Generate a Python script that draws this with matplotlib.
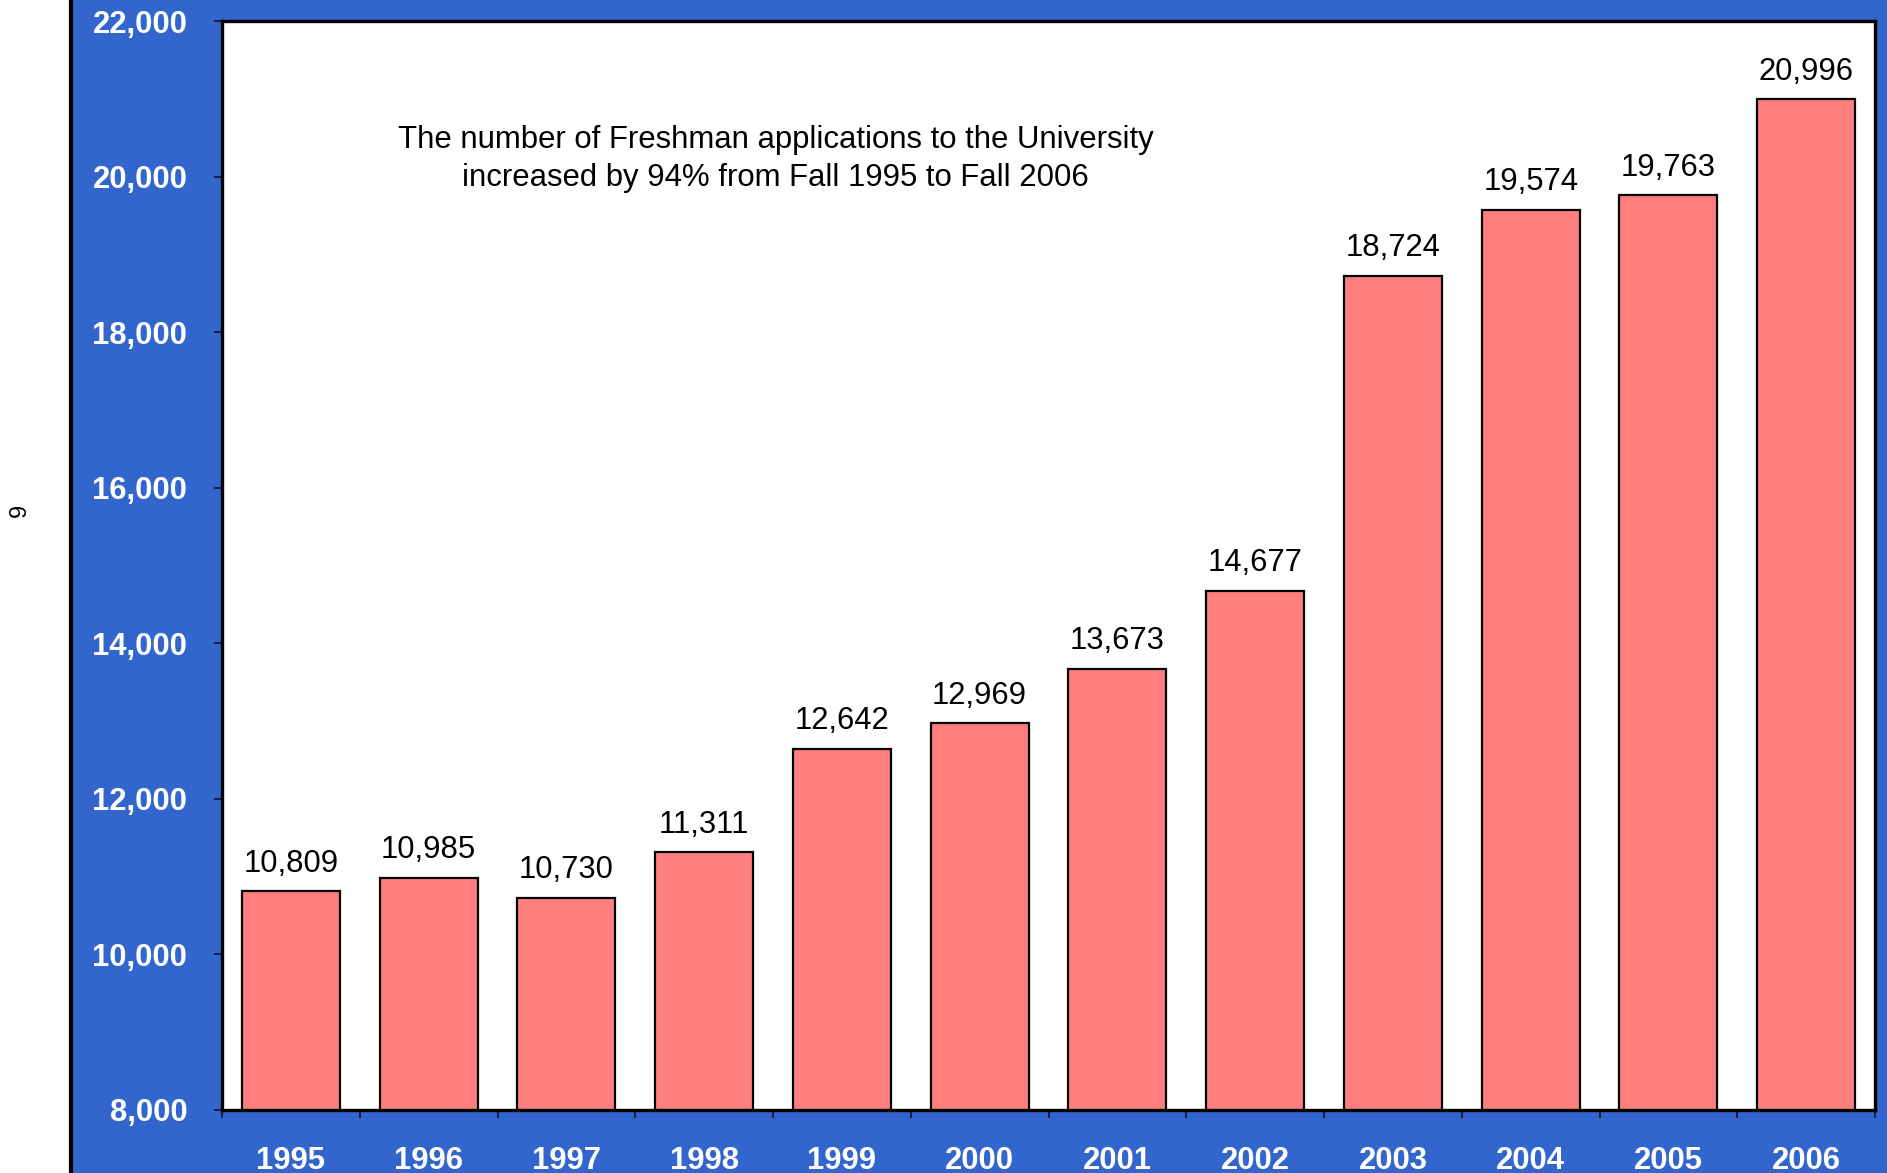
import matplotlib
matplotlib.use('Agg')
import matplotlib.pyplot as plt
from matplotlib.patches import Rectangle
from matplotlib.ticker import FuncFormatter
import numpy as np

plt.rcParams['font.family'] = ['Liberation Sans', 'DejaVu Sans']

years = ['1995', '1996', '1997', '1998', '1999', '2000',
         '2001', '2002', '2003', '2004', '2005', '2006']
applications = [10809, 10985, 10730, 11311, 12642, 12969,
                13673, 14677, 18724, 19574, 19763, 20996]
yticks = [8000, 10000, 12000, 14000, 16000, 18000, 20000, 22000]
note = ('The number of Freshman applications to the University\n'
        'increased by 94% from Fall 1995 to Fall 2006')

blue = '#3366cc'
bar_color = '#ff7f7f'

fig = plt.figure(figsize=(18.87, 11.73), dpi=100)
fig.patch.set_facecolor(blue)

# white strip on the left, with black edge against the blue panel
fig.add_artist(Rectangle((0, 0), 71 / 1887, 1, transform=fig.transFigure,
                         facecolor='white', edgecolor='none'))
fig.add_artist(plt.Line2D([71 / 1887, 71 / 1887], [0, 1], transform=fig.transFigure,
                          color='black', lw=3))

ax = fig.add_axes([222 / 1887, 1 - 1110 / 1173, (1875 - 222) / 1887, (1110 - 21) / 1173])
ax.set_facecolor('white')

x = np.arange(len(years))
bars = ax.bar(x, applications, width=0.71, color=bar_color,
              edgecolor='black', linewidth=1.6, zorder=2)

for xi, v in zip(x, applications):
    ax.annotate(f'{v:,}', (xi, v), xytext=(0, 9), textcoords='offset points',
                ha='center', va='bottom', fontsize=22.3, color='black')

ax.set_xlim(-0.5, len(years) - 0.5)
ax.set_ylim(8000, 22000)
ax.set_yticks(yticks)
ax.yaxis.set_major_formatter(FuncFormatter(lambda v, p: f'{int(v):,}'))
ax.tick_params(axis='y', direction='out', length=6, width=1.2, color='#111133',
               labelsize=22.3, labelcolor='white', pad=19)
for lab in ax.get_yticklabels():
    lab.set_fontweight('bold')

ax.set_xticks(x)
ax.set_xticklabels(years, fontsize=22.3, fontweight='bold', color='white')
ax.tick_params(axis='x', which='major', length=0, pad=26)
ax.set_xticks(np.arange(len(years) + 1) - 0.5, minor=True)
ax.tick_params(axis='x', which='minor', direction='out', length=6, width=1.2,
               color='#111133')

for s in ax.spines.values():
    s.set_color('black')
    s.set_linewidth(2.4)

ax.text(0.335, 0.873, note, transform=ax.transAxes, ha='center', va='center',
        fontsize=22.4, color='black', linespacing=1.36)

fig.text(20 / 1887, 1 - 510 / 1173, '9', rotation=90, ha='center', va='center',
         fontsize=17, color='black')

fig.savefig('out.png', dpi=100, facecolor=fig.get_facecolor())
